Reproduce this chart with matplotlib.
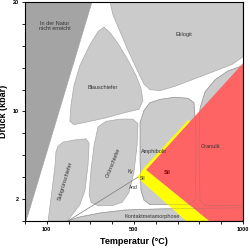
import matplotlib
matplotlib.use('Agg')
import matplotlib.pyplot as plt
from matplotlib.patches import Polygon

plt.rcParams['font.family'] = ['Liberation Sans', 'DejaVu Sans']

# facies fields, temperature (deg C) and pressure (kbar) outlines
dark_T = [0, 0, 307, 5]
dark_P = [0, 20, 20, 0]

eklogit_T = [390, 1000, 1000, 950, 872, 780, 688, 619, 573, 546, 528, 505, 472, 436, 404]
eklogit_P = [20, 20, 15.0, 14.3, 13.7, 13.0, 12.3, 11.9, 12.0, 12.5, 13.2, 14.2, 15.6, 17.3, 18.8]

blau_T = [362, 390, 427, 472, 509, 532, 541, 523, 459, 367, 275, 225, 206, 211, 225, 252, 298, 335]
blau_P = [17.7, 17.2, 16.2, 14.7, 13.3, 12.1, 11.0, 10.2, 9.9, 9.4, 9.0, 8.8, 9.1, 10.6, 12.4, 14.2, 16.1, 17.3]

gruen_T = [335, 372, 436, 495, 518, 514, 500, 477, 445, 399, 335, 303, 294, 303, 317]
gruen_P = [8.6, 9.1, 9.3, 9.3, 8.9, 6.9, 4.5, 2.6, 1.7, 1.4, 1.4, 1.7, 2.4, 4.7, 6.9]

subgruen_T = [151, 174, 229, 280, 294, 289, 275, 252, 206, 193, 106, 124, 138, 142]
subgruen_P = [6.8, 7.2, 7.4, 7.5, 7.1, 5.1, 2.8, 1.5, 0.3, 0, 0, 2.8, 5.1, 6.3]

amph_T = [528, 546, 573, 619, 688, 748, 775, 784, 784, 780, 757, 573, 546, 532, 528]
amph_P = [9.0, 10.1, 10.8, 11.1, 11.3, 11.2, 10.8, 8.3, 4.7, 1.9, 1.5, 1.5, 1.9, 2.8, 5.6]

granulit_T = [803, 826, 872, 931, 1000, 1000, 826, 803, 798]
granulit_P = [10.3, 11.8, 12.9, 13.7, 14.2, 1.4, 1.4, 1.9, 6.5]

kontakt_T = [193, 252, 344, 459, 619, 1000, 1000]
kontakt_P = [0, 0.37, 0.73, 1.0, 1.1, 1.2, 0]

sil_T = [555, 1000, 1000, 844]
sil_P = [4.66, 14.4, 0, 0]

yellow_T = [514, 546, 748, 757, 555, 844, 739]
yellow_P = [4.0, 4.84, 9.2, 9.1, 4.66, 0, 0]

ky_and_T = [197, 518]
ky_and_P = [0, 4.0]

x_ticks = list(range(0, 1001, 100))
x_labels = ['', '100', '', '', '', '500', '', '', '', '', '1000']
y_ticks = list(range(0, 21, 2))
y_labels = ['', '2', '', '', '', '10', '', '', '', '', '20']

LIGHT = '#cbcbcb'
EDGE = '#a9a9a9'

fig = plt.figure(figsize=(2.5, 2.48), dpi=100)
ax = fig.add_axes([0.1, 0.109, 0.872, 0.883])


def field(T, P, fc, ec=EDGE, z=1):
    ax.add_patch(Polygon(list(zip(T, P)), closed=True, facecolor=fc, edgecolor=ec,
                         lw=0.5, joinstyle='round', zorder=z))


field(dark_T, dark_P, '#a4a4a4', ec='#a4a4a4')
for T, P in [(eklogit_T, eklogit_P), (blau_T, blau_P), (gruen_T, gruen_P),
             (subgruen_T, subgruen_P), (amph_T, amph_P), (granulit_T, granulit_P),
             (kontakt_T, kontakt_P)]:
    field(T, P, LIGHT)

field(sil_T, sil_P, '#ff6464', ec='none', z=2)
field(yellow_T, yellow_P, '#ffff00', ec='none', z=3)

# faint outlines showing through the red field
for T, P in [(amph_T, amph_P), (granulit_T, granulit_P), (kontakt_T, kontakt_P)]:
    ax.add_patch(Polygon(list(zip(T, P)), closed=True, fill=False,
                         edgecolor=(0.45, 0.45, 0.45, 0.35), lw=0.5, zorder=4))

ax.plot(ky_and_T, ky_and_P, color='#7a7a7a', lw=0.5, zorder=5)

tc = '#333333'
fs = 4
ax.text(138, 17.8, 'In der Natur\nnicht erreicht', fontsize=fs, color=tc, ha='center', va='center', zorder=6)
ax.text(358, 12.2, 'Blauschiefer', fontsize=fs, color=tc, ha='center', va='center', zorder=6)
ax.text(729, 17.0, 'Eklogit', fontsize=fs, color=tc, ha='center', va='center', zorder=6)
ax.text(183, 3.7, 'Subgrünschiefer', fontsize=fs, color=tc, ha='center', va='center', rotation=73, zorder=6)
ax.text(404, 5.3, 'Grünschiefer', fontsize=fs, color=tc, ha='center', va='center', rotation=68, zorder=6)
ax.text(590, 6.3, 'Amphibolit', fontsize=fs, color=tc, ha='center', va='center', zorder=6)
ax.text(849, 6.8, 'Granulit', fontsize=fs, color=tc, ha='center', va='center', zorder=6)
ax.text(651, 4.4, 'Sil', fontsize=fs, color='#7a0000', ha='center', va='center', fontweight='bold', zorder=6)
ax.text(482, 4.5, 'Ky', fontsize=3.5, color=tc, ha='center', va='center', zorder=6)
ax.text(537, 3.9, 'Sil', fontsize=3.5, color=tc, ha='center', va='center', zorder=6)
ax.text(495, 3.1, 'And', fontsize=3.5, color=tc, ha='center', va='center', zorder=6)
ax.text(585, 0.45, 'Kontaktmetamorphose', fontsize=fs, color=tc, ha='center', va='center', zorder=6)

ax.set_xlim(0, 1000)
ax.set_ylim(0, 20)
ax.set_xticks(x_ticks)
ax.set_xticklabels(x_labels, fontsize=4, fontweight='bold')
ax.set_yticks(y_ticks)
ax.set_yticklabels(y_labels, fontsize=4, fontweight='bold')
ax.tick_params(direction='out', length=2.5, width=0.6, pad=2)
for s in ax.spines.values():
    s.set_linewidth(0.8)
    s.set_zorder(10)

ax.set_xlabel('Temperatur (°C)', fontsize=6.5, fontweight='bold')
ax.set_ylabel('Druck (kbar)', fontsize=6.5, fontweight='bold')
ax.xaxis.set_label_coords(0.5, -0.075)
ax.yaxis.set_label_coords(-0.078, 0.5)

fig.savefig('out.png', dpi=100)
